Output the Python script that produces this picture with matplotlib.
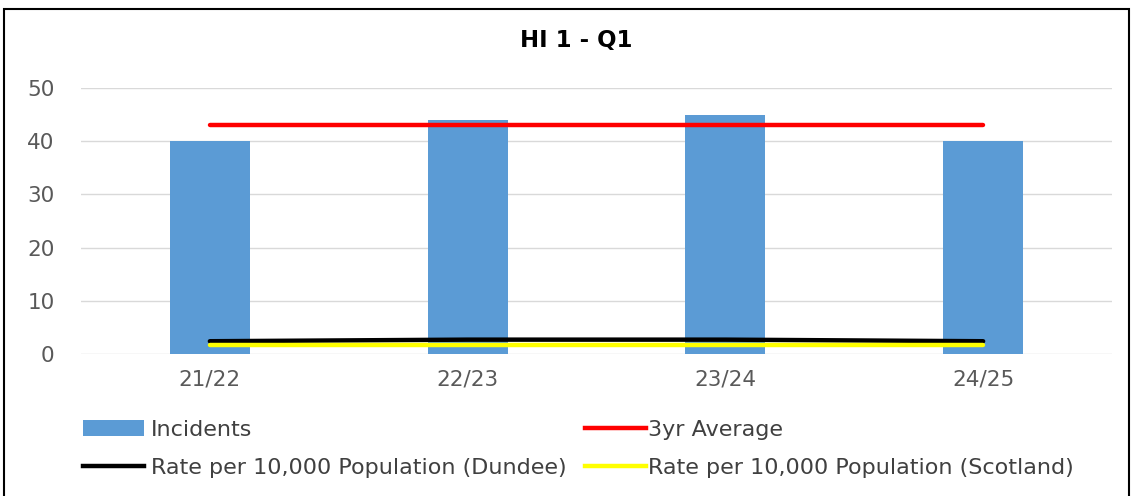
import matplotlib
matplotlib.use("Agg")
import matplotlib.pyplot as plt
from matplotlib.patches import Patch, Rectangle
from matplotlib.lines import Line2D

categories = ["21/22", "22/23", "23/24", "24/25"]
incidents = [40, 44, 45, 40]
avg_3yr = [43, 43, 43, 43]
rate_dundee = [2.4, 2.7, 2.7, 2.4]
rate_scotland = [1.7, 1.7, 1.7, 1.7]
y_ticks = [0, 10, 20, 30, 40, 50]

plt.rcParams['font.family'] = ['DejaVu Sans']

fig = plt.figure(figsize=(11.34, 4.96), dpi=100)
ax = fig.add_axes([81/1134, 1-354/496, (1112-81)/1134, (354-88)/496])

x = list(range(len(categories)))
ax.bar(x, incidents, width=0.31, color="#5B9BD5", zorder=2)
ax.plot(x, avg_3yr, color="#FF0000", lw=3.2, solid_capstyle="round", zorder=3)
ax.plot(x, rate_dundee, color="#000000", lw=3.2, solid_capstyle="round", zorder=3)
ax.plot(x, rate_scotland, color="#FFFF00", lw=3.2, solid_capstyle="round", zorder=4)

ax.set_xlim(-0.5, 3.5)
ax.set_ylim(0, 50)
ax.set_yticks(y_ticks)
ax.set_xticks(x)
ax.set_xticklabels(categories)
ax.grid(axis="y", color="#D9D9D9", lw=1, zorder=0)
for s in ax.spines.values():
    s.set_visible(False)
ax.tick_params(length=0, labelsize=15.5, labelcolor="#595959")
ax.tick_params(axis="y", pad=19)
ax.tick_params(axis="x", pad=11)

fig.text(576/1134, 1-40/496, "HI 1 - Q1", ha="center", va="center",
         fontsize=16.5, fontweight="bold", color="#000000")

col1_h = [Patch(facecolor="#5B9BD5"), Line2D([], [], color="#000000", lw=3.2)]
col1_l = ["Incidents", "Rate per 10,000 Population (Dundee)"]
col2_h = [Line2D([], [], color="#FF0000", lw=3.2), Line2D([], [], color="#FFFF00", lw=3.2)]
col2_l = ["3yr Average", "Rate per 10,000 Population (Scotland)"]

common = dict(loc="center left", frameon=False, fontsize=16, handlelength=2.75,
              labelspacing=0.82, labelcolor="#404040", borderaxespad=0, borderpad=0)
fig.legend(col1_h, col1_l, bbox_to_anchor=(83/1134, 1-449/496),
           handletextpad=0.3, **common)
fig.legend(col2_h, col2_l, bbox_to_anchor=(585/1134, 1-449/496),
           handletextpad=0.1, **common)

fig.add_artist(Rectangle((4/1134, -0.01), 1-9/1134, 1-9/496 + 0.01,
                         transform=fig.transFigure, fill=False,
                         edgecolor="#000000", lw=1.5))

fig.savefig("out.png", dpi=100)
